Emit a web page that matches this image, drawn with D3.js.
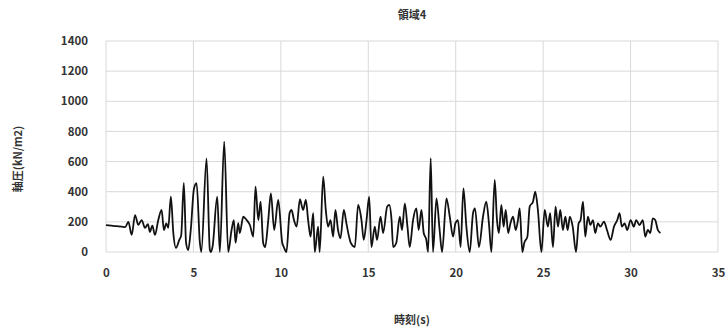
<!DOCTYPE html>
<html>
<head>
<meta charset="utf-8">
<script src="https://cdn.jsdelivr.net/npm/d3@7"></script>
<style>
  body { margin: 0; background: #fff; }
  text { font-family: "Noto Sans CJK JP", "Noto Sans", sans-serif; }
</style>
</head>
<body>
<svg id="chart" width="726" height="332"></svg>
<script>
// time (s) and axial pressure (kN/m2)
var times = [0, 0.3, 0.6, 0.9, 1.1, 1.28, 1.47, 1.66, 1.85, 2.04, 2.23, 2.4, 2.51, 2.65, 2.8, 2.99, 3.18, 3.31, 3.45, 3.56,
  3.71, 3.85, 4.0, 4.19, 4.3, 4.45, 4.58, 4.7, 4.85, 5.03, 5.18, 5.37, 5.45, 5.75, 5.94, 6.0, 6.1, 6.36, 6.51, 6.76,
  6.99, 7.18, 7.31, 7.41, 7.56, 7.65, 7.85, 8.04, 8.23, 8.42, 8.55, 8.71, 8.84, 8.99, 9.1, 9.28, 9.43, 9.62, 9.85, 10.08,
  10.17, 10.32, 10.5, 10.61, 10.75, 10.9, 11.09, 11.27, 11.43, 11.56, 11.7, 11.85, 11.94, 12.13, 12.22, 12.42, 12.57, 12.7, 12.84, 12.99,
  13.12, 13.27, 13.41, 13.6, 13.75, 13.9, 14.0, 14.23, 14.42, 14.61, 14.74, 14.9, 15.05, 15.18, 15.37, 15.5, 15.7, 15.85, 16.08, 16.2,
  16.33, 16.42, 16.6, 16.8, 16.93, 17.09, 17.24, 17.37, 17.56, 17.75, 17.88, 18.04, 18.17, 18.32, 18.42, 18.57, 18.7, 18.9, 19.08, 19.22,
  19.47, 19.66, 19.85, 19.98, 20.13, 20.28, 20.44, 20.61, 20.8, 20.99, 21.1, 21.33, 21.56, 21.75, 21.9, 22.04, 22.23, 22.36, 22.47, 22.61,
  22.74, 22.86, 23.0, 23.13, 23.28, 23.43, 23.56, 23.66, 23.81, 23.92, 24.1, 24.23, 24.42, 24.55, 24.7, 24.9, 25.09, 25.27, 25.4, 25.56,
  25.71, 25.85, 25.98, 26.13, 26.27, 26.4, 26.53, 26.69, 26.88, 27.03, 27.14, 27.28, 27.41, 27.56, 27.7, 27.85, 27.98, 28.13, 28.27, 28.48,
  28.65, 28.86, 29.05, 29.24, 29.37, 29.5, 29.66, 29.81, 30.0, 30.19, 30.32, 30.51, 30.7, 30.84, 30.99, 31.13, 31.27, 31.41, 31.56, 31.71];
var pressure = [178, 175, 172, 168, 165, 200, 113, 245, 180, 212, 160, 185, 133, 175, 113, 212, 279, 146, 190, 160,
  367, 126, 27, 80, 110, 458, 60, 13, 150, 420, 457, 60, 0, 621, 13, 0, 40, 367, 0, 732,
  0, 146, 212, 60, 192, 126, 234, 212, 179, 102, 434, 212, 334, 60, 33, 212, 389, 146, 345, 60,
  33, 0, 258, 279, 212, 168, 350, 279, 345, 212, 102, 258, 0, 168, 0, 500, 279, 168, 212, 102,
  279, 146, 91, 279, 190, 102, 60, 33, 312, 212, 80, 212, 367, 33, 168, 80, 234, 126, 301, 312,
  212, 33, 60, 234, 146, 323, 168, 33, 212, 290, 146, 279, 126, 80, 0, 622, 0, 356, 146, 0,
  356, 234, 102, 190, 212, 33, 422, 168, 0, 258, 290, 33, 234, 334, 190, 0, 478, 212, 126, 312,
  168, 279, 126, 190, 234, 146, 212, 290, 0, 60, 102, 301, 334, 400, 279, 0, 279, 168, 258, 33,
  301, 168, 279, 146, 234, 146, 234, 168, 0, 190, 212, 334, 102, 234, 179, 212, 126, 190, 168, 201,
  146, 80, 168, 212, 258, 168, 190, 146, 212, 168, 212, 179, 212, 102, 146, 126, 223, 212, 146, 126];

var xTicks = [0, 5, 10, 15, 20, 25, 30, 35];
var yTicks = [0, 200, 400, 600, 800, 1000, 1200, 1400];

var svg = d3.select('#chart');
var margin = {top: 41, right: 8, bottom: 80, left: 106};
var w = 726 - margin.left - margin.right;
var h = 332 - margin.top - margin.bottom;

var xScale = d3.scaleLinear().domain([0, 35]).range([0, w]);
var yScale = d3.scaleLinear().domain([0, 1400]).range([h, 0]);

var g = svg.append('g')
  .attr('transform', 'translate(' + margin.left + ',' + margin.top + ')');

// gridlines (they also make the box round the plot)
g.selectAll('.hgrid').data(yTicks).enter().append('line')
  .attr('x1', 0).attr('x2', w)
  .attr('y1', (d) => yScale(d)).attr('y2', (d) => yScale(d))
  .style('stroke', '#d9d9d9').style('stroke-width', '1px');
g.selectAll('.vgrid').data(xTicks).enter().append('line')
  .attr('y1', 0).attr('y2', h)
  .attr('x1', (d) => xScale(d)).attr('x2', (d) => xScale(d))
  .style('stroke', '#d9d9d9').style('stroke-width', '1px');

// axes, tick labels only
var xAxis = d3.axisBottom(xScale).tickValues(xTicks).tickFormat(d3.format('d')).tickSize(0).tickPadding(17);
var yAxis = d3.axisLeft(yScale).tickValues(yTicks).tickFormat(d3.format('d')).tickSize(0).tickPadding(18);

var ax = g.append('g').attr('transform', 'translate(0,' + h + ')').call(xAxis);
var ay = g.append('g').call(yAxis);
[ax, ay].forEach((a) => {
  a.select('.domain').remove();
  a.selectAll('text')
    .style('font-size', '11.5px')
    .style('font-weight', 'bold')
    .style('fill', '#333');
});

// the pressure line
var data = times.map((t, i) => ({t: t, v: pressure[i]}));
var line = d3.line()
  .curve(d3.curveMonotoneX)
  .x((d) => xScale(d.t))
  .y((d) => yScale(d.v));

g.append('path')
  .datum(data)
  .attr('d', line)
  .style('fill', 'none')
  .style('stroke', '#111')
  .style('stroke-width', '1.8px')
  .style('stroke-linejoin', 'round');

// titles
svg.append('text')
  .attr('x', 412).attr('y', 19)
  .attr('text-anchor', 'middle')
  .style('font-size', '11px').style('font-weight', 'bold').style('fill', '#333')
  .text('領域4');

svg.append('text')
  .attr('transform', 'translate(22,159) rotate(-90)')
  .attr('text-anchor', 'middle')
  .style('font-size', '11px').style('font-weight', 'bold').style('fill', '#333')
  .text('軸圧(kN/m2)');

svg.append('text')
  .attr('x', 412).attr('y', 324)
  .attr('text-anchor', 'middle')
  .style('font-size', '11px').style('font-weight', 'bold').style('fill', '#333')
  .text('時刻(s)');
</script>
</body>
</html>
